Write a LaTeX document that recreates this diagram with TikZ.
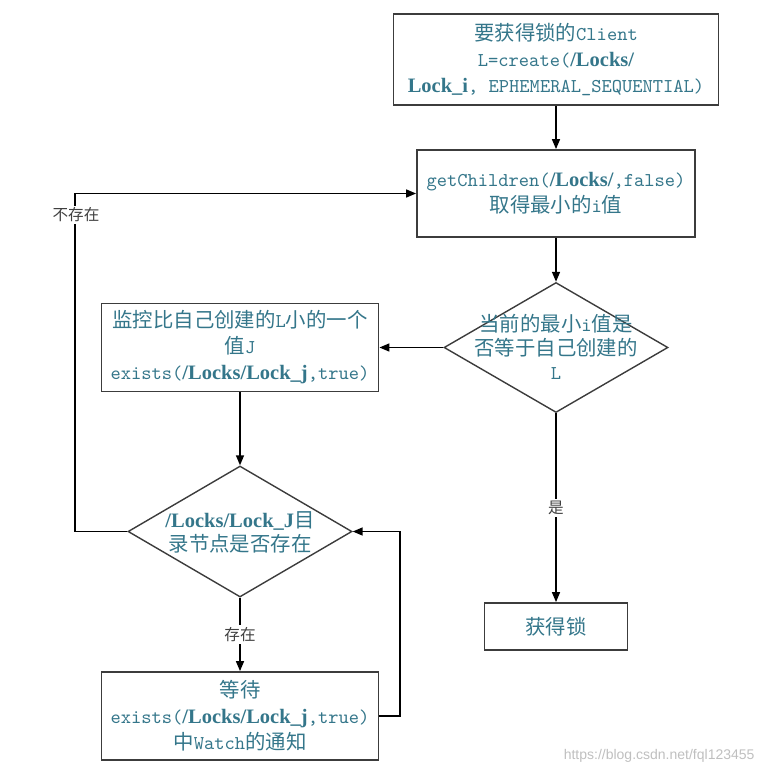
\documentclass[tikz,border=0pt]{standalone}
\usepackage{fontspec}
\usepackage{tikz}
\usetikzlibrary{shapes.geometric,arrows.meta}
\setmainfont{Liberation Serif}
\setmonofont[Scale=1.15]{lmmono10-regular.otf}
\newfontfamily\cjkfont[Scale=1.2]{Noto Sans CJK SC}
\newfontfamily\markfont{Liberation Sans}
\definecolor{txtteal}{RGB}{52,118,138}
\definecolor{edgegray}{RGB}{60,60,60}
\newcommand{\zh}[1]{{\cjkfont #1}}
\newcommand{\cd}[1]{{\ttfamily #1}}
\newcommand{\lk}[1]{{\fontsize{20.5}{26}\selectfont\bfseries #1}}

\begin{document}
\begin{tikzpicture}[x=1pt,y=-1pt,
    box/.style={draw=edgegray, line width=1.8pt, inner sep=0pt, align=center,
                text=txtteal, font=\fontsize{17}{26}\selectfont},
    choice/.style={diamond, draw=edgegray, line width=1.4pt, inner sep=0pt},
    choicetext/.style={align=center, text=txtteal, font=\fontsize{17}{24}\selectfont},
    flow/.style={line width=1.5pt, -{Triangle[length=10pt,width=8pt]}},
    tag/.style={fill=white, inner sep=2pt, text=black!75,
                font=\cjkfont\fontsize{13}{13}\selectfont}]
            \useasboundingbox (0,0) rectangle (766,773);

            % right column
            \node[box, minimum width=325pt, minimum height=91pt] (create) at (556,59.5)
                {\zh{要获得锁的}\cd{Client}\\ \cd{L=create(}\lk{/Locks/}\\ \lk{Lock\_i}\cd{, EPHEMERAL\_SEQUENTIAL)}};
            \node[box, minimum width=278pt, minimum height=87pt] (children) at (556,193.5)
                {\cd{getChildren(}\lk{/Locks/}\cd{,false)}\\ \zh{取得最小的}\cd{i}\zh{值}};
            \node[choice, minimum width=224pt, minimum height=130pt] (smallest) at (556,347.5) {};
            \node[choicetext] (smallesttext) at (556,347)
                {\zh{当前的最小}\cd{i}\zh{值是}\\ \zh{否等于自己创建的}\\ \cd{L}};
            \node[box, minimum width=143pt, minimum height=47pt] (acquire) at (556,626.5) {\zh{获得锁}};

            % left column
            \node[box, minimum width=277pt, minimum height=88pt] (watch) at (240,347.5)
                {\zh{监控比自己创建的}\cd{L}\zh{小的一个}\\ \zh{值}\cd{J}\\ \cd{exists(}\lk{/Locks/Lock\_j}\cd{,true)}};
            \node[choice, minimum width=224pt, minimum height=131pt] (exist) at (240,531.5) {};
            \node[choicetext] (existtext) at (240,532)
                {\lk{/Locks/Lock\_J}\zh{目}\\ \zh{录节点是否存在}};
            \node[box, minimum width=277pt, minimum height=88pt] (wait) at (240,716)
                {\zh{等待}\\ \cd{exists(}\lk{/Locks/Lock\_j}\cd{,true)}\\ \zh{中}\cd{Watch}\zh{的通知}};

            \coordinate (leftrail) at (75,193.5);
            \coordinate (rightrail) at (400,531.5);

            \draw[flow] (create) -- (children);
            \draw[flow] (children) -- (smallest);
            \draw[flow] (smallest) -- (watch);
            \draw[flow] (smallest) -- node[tag] (yes) {是} (acquire);
            \draw[flow] (watch) -- (exist);
            \draw[flow] (exist) -- node[tag] (present) {存在} (wait);
            \draw[flow] (exist.west) -| (leftrail) -- (children.west);
            \node[tag] (absent) at (76,215) {不存在};
            \draw[flow] (wait.east) -| (rightrail) -- (exist.east);

            \node[anchor=east, text=black!25, font=\markfont\fontsize{14}{14}\selectfont] (mark) at (758,756)
                {https://blog.csdn.net/fql123455};
\end{tikzpicture}
\end{document}
